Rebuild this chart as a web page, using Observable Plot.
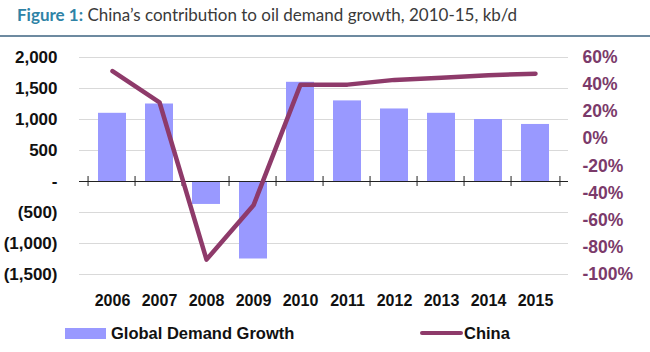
<!DOCTYPE html>
<html>
<head>
<meta charset="utf-8">
<script src="https://cdn.jsdelivr.net/npm/d3@7"></script>
<script src="https://cdn.jsdelivr.net/npm/@observablehq/plot@0.6"></script>
<style>
  html, body { margin: 0; padding: 0; background: #fff; }
  #wrap { width: 650px; height: 352px; position: relative; overflow: hidden; }
  #title { height: 35px; border-bottom: 2px solid #6d8aa0; box-sizing: content-box;
    font-family: Lato, "Open Sans", sans-serif; font-size: 17px; color: #3a3a3a;
    padding-left: 17px; line-height: 30px; }
  #title b { color: #2f83a6; }
  #legend { position: absolute; top: 322px; left: 0; width: 650px; height: 22px;
    font-family: "Liberation Sans", Arial, sans-serif; font-weight: bold; font-size: 16.5px; color: #111; }
  .item { position: absolute; top: 0; display: flex; align-items: center; height: 22px; }
  .sw-bar { width: 41px; height: 11px; background: #9999ff; margin-right: 5px; }
  .sw-line { width: 43px; height: 4px; border-radius: 2px; background: #8e3a6a; margin-right: 1px; }
</style>
</head>
<body>
<div id="wrap">
  <div id="title"><b>Figure 1:</b> China’s contribution to oil demand growth, 2010-15, kb/d</div>
  <div id="chart"></div>
  <div id="legend"></div>
</div>
<script>
const years = ["2006","2007","2008","2009","2010","2011","2012","2013","2014","2015"];
const globalGrowth = [1100, 1250, -370, -1250, 1600, 1300, 1170, 1100, 1000, 920];
const chinaShare = [50, 27, -89, -49, 40, 40, 43.5, 45, 47, 48];
const leftTicks = [2000, 1500, 1000, 500, 0, -500, -1000, -1500];
const rightTicks = [60, 40, 20, 0, -20, -40, -60, -80, -100];
const seriesNames = ["Global Demand Growth", "China"];

const barColor = "#9999ff";
const lineColor = "#8e3a6a";
const rightColor = "#7b3a6a";

// map percent (right axis) to left-axis units
const pct = d3.scaleLinear([-100, 60], [-1500, 2000]);

const bars = years.map((y, i) => ({year: y, value: globalGrowth[i]}));
const line = years.map((y, i) => ({year: y, share: chinaShare[i], v: pct(chinaShare[i])}));

const W = 650, mL = 79, mR = 82;
const step = (W - mL - mR) / years.length;

const fmtLeft = d => d === 0 ? "-" : d < 0 ? "(" + d3.format(",")(-d) + ")" : d3.format(",")(d);

const plot = Plot.plot({
  width: W,
  height: 278,
  marginLeft: mL,
  marginRight: mR,
  marginTop: 20,
  marginBottom: 41,
  style: {fontFamily: "'Liberation Sans', Arial, sans-serif", background: "transparent"},
  x: {domain: years, padding: 0.4, label: null},
  y: {domain: [-1500, 2000], label: null},
  marks: [
    Plot.ruleY(leftTicks.filter(d => d !== 0), {stroke: "#d9d9d9", strokeWidth: 1}),
    Plot.barY(bars, {x: "year", y: "value", fill: barColor}),
    Plot.ruleY([0], {stroke: "#222", strokeWidth: 1.2}),
    Plot.ruleX(years, {x: d => d, y1: 0, y2: 0, insetTop: -5, insetBottom: -5, dx: -step / 2, stroke: "#222"}),
    Plot.ruleX([years[years.length - 1]], {x: d => d, y1: 0, y2: 0, insetTop: -5, insetBottom: -5, dx: step / 2, stroke: "#222"}),
    Plot.line(line, {x: "year", y: "v", stroke: lineColor, strokeWidth: 4.5, strokeLinejoin: "round", strokeLinecap: "round"}),
    Plot.axisX({anchor: "bottom", tickSize: 0, tickPadding: 20, fontSize: 16, fontWeight: "bold", fill: "#111"}),
    Plot.axisY({anchor: "left", ticks: leftTicks, tickSize: 0, tickPadding: 22, tickFormat: fmtLeft, fontSize: 17, fontWeight: "bold", fill: "#111"}),
    Plot.axisY({anchor: "right", ticks: rightTicks.map(p => pct(p)), tickSize: 0, tickPadding: 14,
      tickFormat: v => Math.round(pct.invert(v)) + "%", fontSize: 17.5, fontWeight: "bold", fill: rightColor})
  ]
});
document.getElementById("chart").appendChild(plot);

const legend = document.getElementById("legend");
legend.innerHTML =
  `<div class="item" style="left:65px"><span class="sw-bar"></span>${seriesNames[0]}</div>` +
  `<div class="item" style="left:420px"><span class="sw-line"></span>${seriesNames[1]}</div>`;
</script>
</body>
</html>
